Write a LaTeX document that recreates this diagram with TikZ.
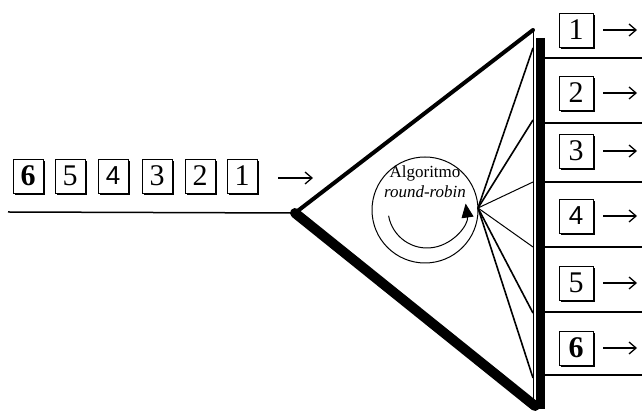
\documentclass[tikz,border=0pt]{standalone}
\usepackage{fontspec}
\setmainfont{Liberation Serif}
\newfontfamily\sansdig{Liberation Sans}
\usetikzlibrary{arrows.meta,shadows,calc}
\begin{document}
\begin{tikzpicture}[x=1pt,y=1pt,
  numbox/.style={draw=black,line width=0.8pt,fill=white,minimum width=30pt,minimum height=34pt,inner sep=0pt,
    font=\fontsize{30}{30}\selectfont,
    drop shadow={shadow xshift=1.6pt,shadow yshift=-1.6pt,fill=black,opacity=1}},
  rnumbox/.style={numbox,minimum width=34pt},
  flow/.style={line width=1.3pt,-{Straight Barb[length=7pt,width=12pt,line width=1.3pt]}},
  fan/.style={line width=1.6pt},
  fanthin/.style={line width=1pt},
  sep/.style={line width=1.4pt}]
\useasboundingbox (0,0) rectangle (642,414);
% triangle
\coordinate (L) at (295,201);
\coordinate (T) at (533,384);
\coordinate (B) at (535,8);
\coordinate (base) at (8,202);
\draw[line width=1.5pt] (base) -- (L);
\draw[line width=1pt] (T) -- (533,8);
\draw[line width=4pt,line cap=round] (L) -- (T);
\draw[line width=10pt,line cap=round] (L) -- (B);
\coordinate (bartop) at (540.5,376);
\coordinate (barbot) at (540.5,5);
\draw[line width=9pt] (bartop) -- (barbot);
% circle
\node[draw,circle,line width=1pt,minimum size=106pt,inner sep=0pt] (rr) at (425,204) {};
\node[font=\fontsize{17}{20}\selectfont,align=center,inner sep=0pt] (lbl) at (425,232) {Algoritmo\\\textit{round-robin}};
\coordinate (ac) at (427,205);
\draw[line width=1pt,-{Triangle[length=14pt,width=12pt]}] ($(ac)+(190:39)$) arc[start angle=190,end angle=368,radius=39];
% fan
\coordinate (F) at (478,206);
\foreach \y/\s [count=\i] in {366/fan,294/fan,232/fanthin,167/fanthin,101/fan,36/fan}{
  \coordinate (e\i) at (533,\y);
  \draw[\s] (F) -- (e\i);
}
% right separators
\foreach \y [count=\i] in {356,291,232,167,102,39}{
  \coordinate (s\i a) at (545,\y);
  \coordinate (s\i b) at (642,\y);
  \draw[sep] (s\i a) -- (s\i b);
}
% right boxes
\foreach \y/\t [count=\i] in {384/1,321/2,263/3,198/{\sansdig\fontsize{26}{26}\selectfont 4},131/5,66/{\bfseries 6}}{
  \node[rnumbox] (r\i) at (576,\y) {\t};
  \coordinate (ra\i) at (603,\y);
  \coordinate (rb\i) at (637,\y);
  \draw[flow] (ra\i) -- (rb\i);
}
% left boxes
\foreach \x/\t [count=\i] in {28/{\bfseries 6},70/5,113/{\sansdig\fontsize{26}{26}\selectfont 4},157/3,200/2,242/1}{
  \node[numbox] (l\i) at (\x,238) {\t};
}
\coordinate (la) at (278,236);
\coordinate (lb) at (313,236);
\draw[flow] (la) -- (lb);
\end{tikzpicture}
\end{document}
